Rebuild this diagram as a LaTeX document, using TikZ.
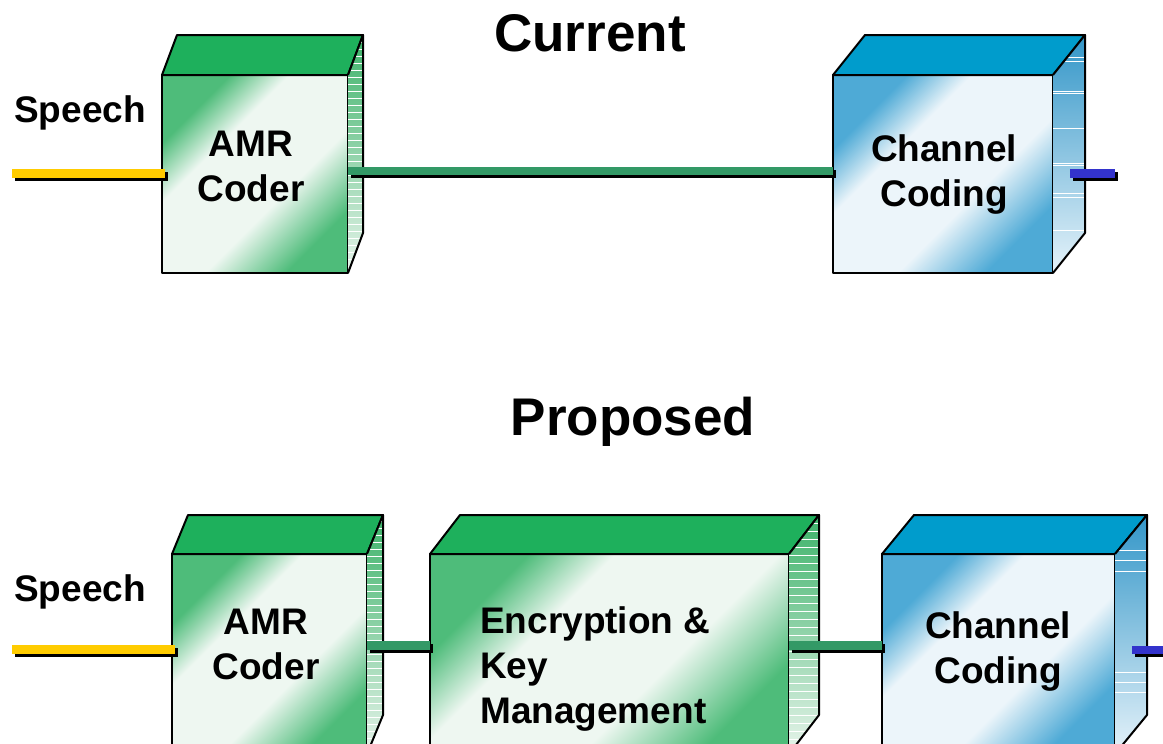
\documentclass[tikz,border=0pt]{standalone}
\usepackage{fontspec}
\setmainfont{Liberation Sans}
\usetikzlibrary{calc}

\definecolor{gTop}{RGB}{30,176,92}
\definecolor{gEdge}{RGB}{78,188,122}
\definecolor{gMid}{RGB}{238,247,241}
\definecolor{gSideTop}{RGB}{60,178,105}
\definecolor{gSideBot}{RGB}{232,245,236}
\definecolor{bTop}{RGB}{0,156,204}
\definecolor{bEdge}{RGB}{78,170,214}
\definecolor{bMid}{RGB}{236,245,250}
\definecolor{bSideTop}{RGB}{51,150,200}
\definecolor{bSideBot}{RGB}{230,243,250}
\definecolor{wireG}{RGB}{51,153,102}
\definecolor{wireY}{RGB}{255,204,0}
\definecolor{wireB}{RGB}{51,51,204}

% front faces: coloured corners, broad pale band across the diagonal
\pgfdeclarehorizontalshading{greenface}{100bp}{color(0bp)=(gEdge); color(27bp)=(gEdge);
  color(38bp)=(gMid); color(59bp)=(gMid); color(74bp)=(gEdge); color(100bp)=(gEdge)}
\pgfdeclarehorizontalshading{blueface}{100bp}{color(0bp)=(bEdge); color(27bp)=(bEdge);
  color(38bp)=(bMid); color(59bp)=(bMid); color(74bp)=(bEdge); color(100bp)=(bEdge)}

\tikzset{
  face/.style={draw=black, line width=2pt, line join=round},
  gfront/.style={face, anchor=north west, inner sep=0pt, outer sep=0pt,
    shading=greenface, shading angle=-45},
  bfront/.style={face, anchor=north west, inner sep=0pt, outer sep=0pt,
    shading=blueface, shading angle=-45},
  boxtext/.style={font=\bfseries\fontsize{37}{45}\selectfont, align=center, inner sep=0pt},
  sidetext/.style={font=\bfseries\fontsize{37}{45}\selectfont, inner sep=0pt, anchor=west},
  heading/.style={font=\bfseries\fontsize{53}{60}\selectfont, inner sep=0pt},
  wire/.style={line width=8.5pt},
  wireshadow/.style={line width=8.5pt, draw=black},
}

% top face, striped side face and outlines of a box whose front is node #1
% #2,#3 depth offset; #4 top colour; #5,#6 side shading; #7 stripe offsets
\newcommand\mkcube[7]{%
  \draw[face, fill=#4] (#1.north west) -- ++(#2,-#3)
      -- ($(#1.north east)+(#2,-#3)$) -- (#1.north east) -- cycle;
  \shade[top color=#5, bottom color=#6] (#1.north east) -- ++(#2,-#3)
      -- ($(#1.south east)+(#2,-#3)$) -- (#1.south east) -- cycle;
  \begin{scope}
    \clip (#1.north east) -- ++(#2,-#3)
      -- ($(#1.south east)+(#2,-#3)$) -- (#1.south east) -- cycle;
    \foreach \s in {#7}
      \draw[white, line width=0.9pt] ($(#1.north east)+(-2,\s)$) -- ++(#2+4,0);
  \end{scope}
  \draw[face] (#1.north east) -- ++(#2,-#3)
      -- ($(#1.south east)+(#2,-#3)$) -- (#1.south east);
}

% a band with a black drop shadow; #2 and #3 are coordinates in parentheses
\newcommand\band[3]{%
  \draw[wireshadow] ($#2+(3,3)$) -- ($#3+(3,3)$);
  \draw[wire, draw=#1] #2 -- #3;
}

\begin{document}
\begin{tikzpicture}[x=1pt, y=-1pt]
  \useasboundingbox (0,0) rectangle (1163,744);
  \clip (0,0) rectangle (1163,744);

  % ---------- current chain ----------
  \node[heading] (cur) at (590,33) {Current};

  \node[gfront, minimum width=186pt, minimum height=198pt] (amr1) at (162,75) {};
  \node[bfront, minimum width=220pt, minimum height=198pt] (chan1) at (833,75) {};
  \mkcube{amr1}{15}{40}{gTop}{gSideTop}{gSideBot}{-33,-26,...,200}
  \mkcube{chan1}{32}{40}{bTop}{bSideTop}{bSideBot}{-18,-14,16,18,53,88,90,118,122,155}

  \node[boxtext] (amr1t) at (251,166) {AMR\\Coder};
  \node[boxtext] (chan1t) at (944,175) {Channel\\Coding};
  \node[sidetext] (sp1) at (14,113) {Speech};

  \path (amr1.west) ++(-150,-0.5) coordinate (in1);
  \path (chan1.east) ++(62,-0.5) coordinate (out1);
  \band{wireY}{(in1)}{([xshift=3pt,yshift=0.5pt]amr1.west)}
  \band{wireG}{([yshift=3pt]amr1.east)}{([yshift=3pt]chan1.west)}
  \band{wireB}{([xshift=17pt,yshift=0.5pt]chan1.east)}{(out1)}

  % ---------- proposed chain ----------
  \node[heading] (prop) at (633,422) {Proposed};

  \node[gfront, minimum width=195pt, minimum height=200pt] (amr2) at (172,554) {};
  \node[gfront, minimum width=359pt, minimum height=200pt] (enc) at (430,554) {};
  \node[bfront, minimum width=233pt, minimum height=200pt] (chan2) at (882,554) {};
  \mkcube{amr2}{16}{39}{gTop}{gSideTop}{gSideBot}{-33,-26,...,200}
  \mkcube{enc}{30}{39}{gTop}{gSideTop}{gSideBot}{-31,-23,...,200}
  \mkcube{chan2}{32}{39}{bTop}{bSideTop}{bSideBot}{-4,6,17,118,128,138}

  \node[boxtext] (amr2t) at (266,644) {AMR\\Coder};
  \node[boxtext, align=left, anchor=west] (enct) at (480,669) {Encryption \&\\Key\\Management};
  \node[boxtext] (chan2t) at (998,652) {Channel\\Coding};
  \node[sidetext] (sp2) at (14,592) {Speech};

  \path (amr2.west) ++(-160,-4.5) coordinate (in2);
  \path (chan2.east) ++(70,-4) coordinate (out2);
  \band{wireY}{(in2)}{([xshift=3pt,yshift=4.5pt]amr2.west)}
  \band{wireG}{([yshift=8.5pt]amr2.east)}{([yshift=8.5pt]enc.west)}
  \band{wireG}{([yshift=8.5pt]enc.east)}{([yshift=8.5pt]chan2.west)}
  \band{wireB}{([xshift=17pt,yshift=4pt]chan2.east)}{(out2)}
\end{tikzpicture}
\end{document}
